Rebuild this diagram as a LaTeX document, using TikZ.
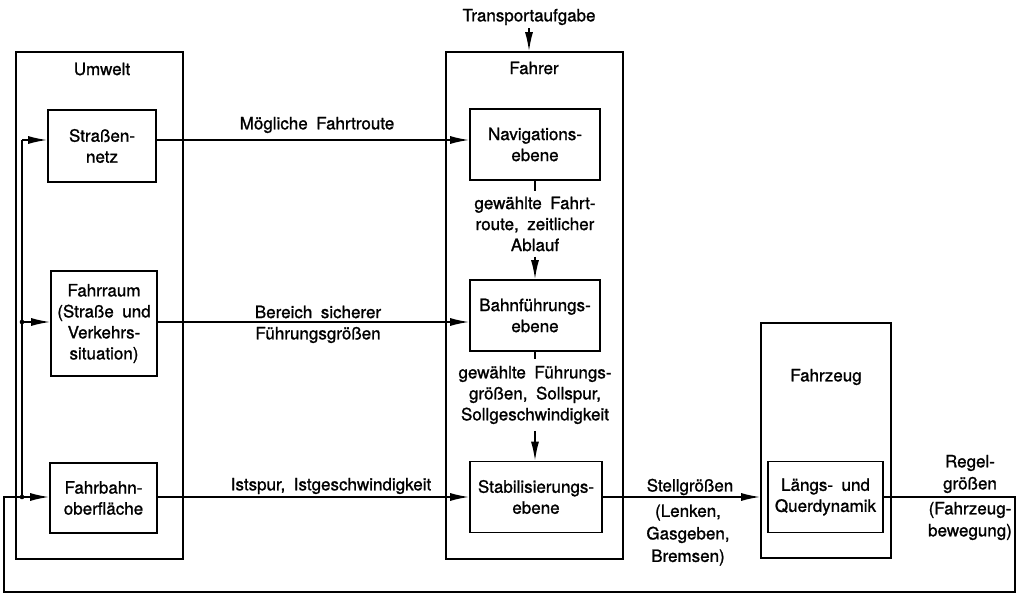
\documentclass[tikz,border=0pt]{standalone}
\usepackage{fontspec}
\setmainfont{TeX Gyre Heros}[WordSpace=1.8,FakeBold=1.2]
\usetikzlibrary{arrows.meta,calc}
\begin{document}
\begin{tikzpicture}[x=1pt,y=-1pt,
  >={Latex[length=19pt,width=8pt]},
  every node/.style={font=\fontsize{17}{21}\selectfont},
  box/.style={draw,line width=1.6pt,inner sep=0pt,align=center},
  lbl/.style={align=center,inner sep=0pt},
  conn/.style={line width=1.6pt},
  arr/.style={conn,->},
]
\useasboundingbox (0,0) rectangle (1025,593);

% outer boxes
\node[box,minimum width=167pt,minimum height=507pt] (umwelt) at (99.5,305.5) {};
\node[box,minimum width=177pt,minimum height=507pt] (fahrer) at (534.5,305.5) {};
\node[box,minimum width=130pt,minimum height=235pt] (fahrzeug) at (826,440.5) {};
\node[lbl] (umweltT) at (102,69) {Umwelt};
\node[lbl] (fahrerT) at (534,68) {Fahrer};
\node[lbl] (fahrzeugT) at (826,377) {Fahrzeug};

% inner boxes
\node[box,minimum width=108pt,minimum height=72pt] (strasse) at (102,146) {Straßen-\\netz};
\node[box,minimum width=106pt,minimum height=105pt] (fahrraum) at (104,323.5) {Fahrraum\\(Straße und\\Verkehrs-\\situation)};
\node[box,minimum width=107pt,minimum height=70pt] (fahrbahn) at (103.5,498) {Fahrbahn-\\oberfläche};
\node[box,minimum width=130pt,minimum height=71pt] (nav) at (535,144.5) {Navigations-\\ebene};
\node[box,minimum width=130pt,minimum height=71pt] (bahn) at (535,315.5) {Bahnführungs-\\ebene};
\node[box,minimum width=132pt,minimum height=71pt] (stab) at (536,497) {Stabilisierungs-\\ebene};
\node[box,minimum width=115pt,minimum height=71pt] (laengs) at (825.5,497) {Längs- und\\Querdynamik};

% junction coordinates
\coordinate (j1) at (22,140);
\coordinate (j2) at (22,322);
\coordinate (j3) at (22,497);
\coordinate (c2) at (4,592);
\coordinate (c3) at (1015,592);

% horizontal connectors
\draw[arr] (strasse.east |- j1) -- (nav.west |- j1);
\draw[arr] (fahrraum.east |- j2) -- (bahn.west |- j2);
\draw[arr] (fahrbahn.east |- j3) -- (stab.west |- j3);
\node[lbl] (l1) at (317,125) {Mögliche Fahrtroute};
\node[lbl] (l2a) at (318,312) {Bereich sicherer};
\node[lbl] (l2b) at (318,335) {Führungsgrößen};
\node[lbl] (l3) at (331,486) {Istspur, Istgeschwindigkeit};

% vertical connectors in Fahrer
\node[lbl,inner ysep=5pt] (t1) at (535,224) {gewählte Fahrt-\\route, zeitlicher\\Ablauf};
\draw[conn] (nav.south) -- (t1.north);
\draw[arr] (t1.south) -- (bahn.north);
\node[lbl,inner ysep=6.5pt] (t2) at (535,395) {gewählte Führungs-\\größen, Sollspur,\\Sollgeschwindigkeit};
\draw[conn] (bahn.south) -- (t2.north);
\draw[arr] (t2.south) -- (stab.north -| t2.south);

% Transportaufgabe
\node[inner sep=3pt] (tr) at (529,17) {Transportaufgabe};
\draw[arr] (tr.south) -- (tr.south |- fahrer.north);

% Stellgroessen
\draw[arr] (stab.east) -- (fahrzeug.west |- stab.east);
\node[lbl] (s1) at (690,487) {Stellgrößen};
\node[lbl] (s2) at (688,535) {(Lenken,\\[1.5pt]Gasgeben,\\[1.5pt]Bremsen)};

% feedback
\draw[conn] (laengs.east) -| (c3) -- (c2) |- (j3);
\draw[arr] (j3) -- (fahrbahn.west |- j3);
\draw[conn] (j3) -- (j1);
\draw[arr] (j1) -- (strasse.west |- j1);
\draw[arr] (j2) -- (fahrraum.west |- j2);
\fill (j2) circle (2.3pt);
\fill (j3) circle (2.3pt);
\node[lbl] (r1) at (970,474) {Regel-\\[1pt]größen};
\node[lbl] (r2) at (970,521) {(Fahrzeug-\\[1pt]bewegung)};
\end{tikzpicture}
\end{document}
